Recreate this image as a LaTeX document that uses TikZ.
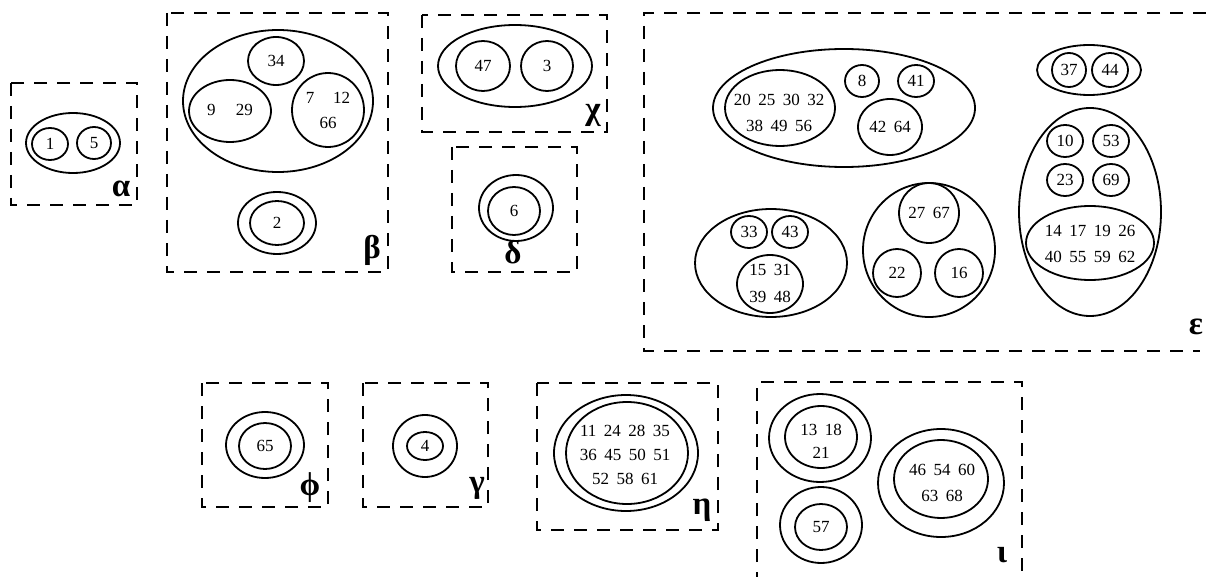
\documentclass[tikz,border=0pt]{standalone}
\usepackage{fontspec}
\setmainfont{Liberation Serif}
\usetikzlibrary{shapes.geometric}

% number text, the optional argument is the line distance
\newcommand{\numsize}[1][25]{\fontsize{17}{#1}\selectfont\spaceskip=7.5pt\relax}

\begin{document}
\begin{tikzpicture}[x=1pt, y=-1pt]
% Define styles
\tikzstyle{frame} = [line width=1.1pt, dash pattern=on 13pt off 10pt]
\tikzstyle{set} = [ellipse, draw, line width=1.8pt, inner sep=0pt, font=\numsize]
\tikzstyle{nums} = [align=center, inner sep=0pt, font=\numsize]
\tikzstyle{tag} = [inner sep=0pt, font=\fontsize{33}{33}\selectfont\bfseries]

\useasboundingbox (0,0) rectangle (1206,577);

% Dashed frames
\draw [frame] (11,83) rectangle (137,205);
\draw [frame] (167,13) rectangle (388,272);
\draw [frame] (422,15) rectangle (607,132);
\draw [frame] (452,147) rectangle (577,272);
\draw [frame] (1206,13) -| (644,351) -- (1200,351);
\draw [frame] (202,383) rectangle (328,507);
\draw [frame] (363,383) rectangle (488,507);
\draw [frame] (537,383) rectangle (718,530);
\draw [frame] (757,585) |- (1022,382) -- (1022,585);

% alpha
\node (a0) [set, minimum width=94pt, minimum height=60pt] at (73,143) {};
\node (a1) [set, minimum width=36pt, minimum height=32pt] at (50,144) {1};
\node (a5) [set, minimum width=34pt, minimum height=32pt] at (94,143) {5};
\node (ta) [tag] at (121,189) {α};

% beta
\node (b0) [set, minimum width=190pt, minimum height=142pt] at (278,101) {};
\node (b34) [set, minimum width=56pt, minimum height=48pt] at (276,61) {34};
\node (b9) [set, minimum width=82pt, minimum height=62pt] at (230,111) {};
\node (t9) [nums] at (230,110) {9\hspace{1.2em}29};
\node (b7) [set, minimum width=72pt, minimum height=74pt] at (328,110) {};
\node (t7) [nums] at (328,110.5) {7\hspace{1.1em}12\\66};
\node (b2o) [set, minimum width=78pt, minimum height=62pt] at (277,223) {};
\node (b2) [set, minimum width=54pt, minimum height=44pt] at (277,223) {2};
\node (tb) [tag] at (372,250) {β};

% chi
\node (c0) [set, minimum width=154pt, minimum height=82pt] at (515,66) {};
\node (c47) [set, minimum width=54pt, minimum height=50pt] at (483,66) {47};
\node (c3) [set, minimum width=52pt, minimum height=50pt] at (547,66) {3};
\node (tc) [tag] at (593,115) {χ};

% delta
\node (d0) [set, minimum width=74pt, minimum height=66pt] at (516,208) {};
\node (d6) [set, minimum width=52pt, minimum height=48pt] at (514,211) {6};
\node (td) [tag] at (513,252) {δ};

% epsilon
\node (e0) [set, minimum width=262pt, minimum height=118pt] at (844,108) {};
\node (e20) [set, minimum width=110pt, minimum height=76pt] at (780,108) {};
\node (t20) [nums, font={\numsize[26]}] at (779,113) {20 25 30 32\\38 49 56};
\node (e8) [set, minimum width=34pt, minimum height=32pt] at (862,81) {8};
\node (e41) [set, minimum width=36pt, minimum height=32pt] at (916,81) {41};
\node (e42) [set, minimum width=64pt, minimum height=56pt] at (890,127) {};
\node (t42) [nums] at (890,127) {42 64};
\node (e37o) [set, minimum width=104pt, minimum height=50pt] at (1089,70) {};
\node (e37) [set, minimum width=34pt, minimum height=34pt] at (1069,70) {37};
\node (e44) [set, minimum width=36pt, minimum height=34pt] at (1110,70) {44};
\node (e10o) [set, minimum width=142pt, minimum height=208pt] at (1090,212) {};
\node (e10) [set, minimum width=36pt, minimum height=32pt] at (1065,141) {10};
\node (e53) [set, minimum width=36pt, minimum height=32pt] at (1111,141) {53};
\node (e23) [set, minimum width=36pt, minimum height=32pt] at (1065,180) {23};
\node (e69) [set, minimum width=36pt, minimum height=32pt] at (1111,180) {69};
\node (e14) [set, minimum width=128pt, minimum height=74pt] at (1090,243) {};
\node (t14) [nums, font={\numsize[26]}] at (1090,244) {14 17 19 26\\40 55 59 62};
\node (e33o) [set, minimum width=152pt, minimum height=108pt] at (771,263) {};
\node (e33) [set, minimum width=36pt, minimum height=32pt] at (749,232) {33};
\node (e43) [set, minimum width=36pt, minimum height=32pt] at (790,232) {43};
\node (e15) [set, minimum width=66pt, minimum height=58pt] at (770,284) {};
\node (t15) [nums, font={\numsize[27]}] at (770,283.5) {15 31\\39 48};
\node (e27o) [set, minimum width=132pt, minimum height=134pt] at (929,250) {};
\node (e27) [set, minimum width=60pt, minimum height=60pt] at (929,213) {};
\node (t27) [nums] at (929,213) {27 67};
\node (e22) [set, minimum width=48pt, minimum height=48pt] at (897,273) {22};
\node (e16) [set, minimum width=48pt, minimum height=48pt] at (959,273) {16};
\node (te) [tag] at (1196,327) {ε};

% phi
\node (f0) [set, minimum width=78pt, minimum height=66pt] at (265,445) {};
\node (f65) [set, minimum width=52pt, minimum height=46pt] at (265,446) {65};
\node (tf) [tag] at (310,488) {ϕ};

% gamma
\node (g0) [set, minimum width=64pt, minimum height=62pt] at (425,446) {};
\node (g4) [set, minimum width=36pt, minimum height=28pt] at (425,446) {4};
\node (tg) [tag] at (477,488) {γ};

% eta
\node (h0) [set, minimum width=144pt, minimum height=116pt] at (626,453) {};
\node (h11) [set, minimum width=122pt, minimum height=102pt] at (627,453) {};
\node (t11) [nums, font={\numsize[24]}] at (625,455) {11 24 28 35\\36 45 50 51\\52 58 61};
\node (th) [tag] at (702,510) {η};

% iota
\node (i0) [set, minimum width=102pt, minimum height=88pt] at (820,438) {};
\node (i13) [set, minimum width=72pt, minimum height=62pt] at (821,437) {};
\node (t13) [nums, font={\numsize[23]}] at (821,441) {13 18\\21};
\node (i57o) [set, minimum width=82pt, minimum height=76pt] at (821,525) {};
\node (i57) [set, minimum width=52pt, minimum height=46pt] at (821,527) {57};
\node (i46o) [set, minimum width=126pt, minimum height=108pt] at (941,483) {};
\node (i46) [set, minimum width=94pt, minimum height=78pt] at (941,479) {};
\node (t46) [nums, font={\numsize[26]}] at (942,483) {46 54 60\\63 68};
\node (ti) [tag] at (1002,555) {ι};
\end{tikzpicture}
\end{document}
